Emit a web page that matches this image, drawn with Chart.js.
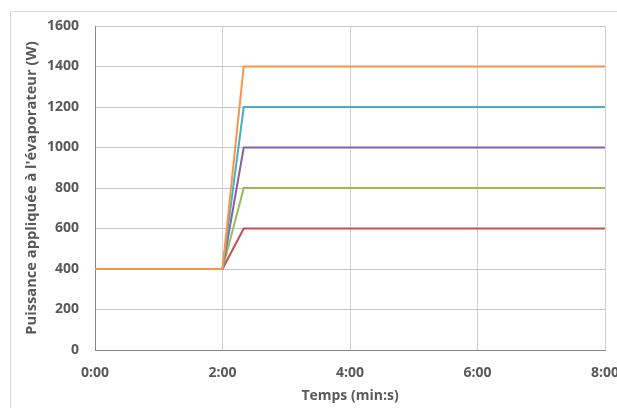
<!DOCTYPE html>
<html>
<head>
<meta charset="utf-8">
<script src="https://cdn.jsdelivr.net/npm/chart.js@4"></script>
<style>
html,body{margin:0;padding:0;background:#fff;}
#wrap{width:617px;height:408px;position:relative;}
</style>
</head>
<body>
<div id="wrap"><canvas id="c" width="617" height="408"></canvas></div>
<script>
// time in minutes
const timeMin = [0, 2, 2.333, 8];
const p600 = [400, 400, 600, 600];
const p800 = [400, 400, 800, 800];
const p1000 = [400, 400, 1000, 1000];
const p1200 = [400, 400, 1200, 1200];
const p1400 = [400, 400, 1400, 1400];
const xTicks = [0, 2, 4, 6, 8];
const yTicks = [0, 200, 400, 600, 800, 1000, 1200, 1400, 1600];
const yTitle = "Puissance appliquée à l'évaporateur (W)";
const xTitle = "Temps (min:s)";

// first entry is drawn on top
const seriesList = [
  {vals: p1400, color: '#F79646'},
  {vals: p1200, color: '#4BACC6'},
  {vals: p1000, color: '#8064A2'},
  {vals: p800, color: '#9BBB59'},
  {vals: p600, color: '#C0504D'}
];

const datasets = seriesList.map(s => ({
  data: timeMin.map((t, i) => ({x: t, y: s.vals[i]})),
  borderColor: s.color,
  backgroundColor: s.color,
  borderWidth: 2,
  pointRadius: 0,
  tension: 0,
  fill: false
}));

const fontFam = "'Open Sans', 'Liberation Sans', sans-serif";
const txtColor = '#595959';

const bgPlugin = {
  id: 'bg',
  beforeDraw(chart) {
    const ctx = chart.ctx;
    ctx.save();
    ctx.fillStyle = '#ffffff';
    ctx.fillRect(0, 0, chart.width, chart.height);
    ctx.strokeStyle = '#d9d9d9';
    ctx.lineWidth = 1;
    ctx.strokeRect(10.5, 11.5, 800, 600);
    ctx.restore();
  }
};

new Chart(document.getElementById('c'), {
  type: 'line',
  data: {datasets},
  plugins: [bgPlugin],
  options: {
    responsive: false,
    animation: false,
    layout: {padding: {left: 0, right: 12, top: 26, bottom: 0}},
    plugins: {legend: {display: false}, tooltip: {enabled: false}},
    scales: {
      x: {
        type: 'linear',
        min: 0, max: 8,
        afterBuildTicks(s) { s.ticks = xTicks.map(v => ({value: v})); },
        afterFit(s) { s.height = 58; s.paddingLeft = 0; s.paddingRight = 0; },
        ticks: {
          padding: 15,
          color: txtColor,
          font: {family: fontFam, size: 14, weight: 'bold'},
          maxRotation: 0,
          autoSkip: false,
          callback: v => Math.floor(v) + ':' + String(Math.round((v % 1) * 60)).padStart(2, '0')
        },
        grid: {color: '#d0d0d0', lineWidth: 1, drawTicks: false},
        border: {color: '#868686', width: 1},
        title: {
          display: true, text: xTitle, color: txtColor,
          font: {family: fontFam, size: 14, weight: 'bold'},
          padding: {top: 0, bottom: 4}
        }
      },
      y: {
        min: 0, max: 1600,
        afterBuildTicks(s) { s.ticks = yTicks.map(v => ({value: v})); },
        afterFit(s) { s.width = 95; s.paddingTop = 0; s.paddingBottom = 0; },
        ticks: {
          padding: 16,
          color: txtColor,
          font: {family: fontFam, size: 14, weight: 'bold'},
          callback: v => String(v)
        },
        grid: {color: '#c6c6c6', lineWidth: 1, drawTicks: false},
        border: {color: '#868686', width: 1},
        title: {
          display: true, text: yTitle, color: txtColor,
          font: {family: fontFam, size: 14.7, weight: 'bold'},
          padding: {top: 23, bottom: 0}
        }
      }
    }
  }
});
</script>
</body>
</html>
